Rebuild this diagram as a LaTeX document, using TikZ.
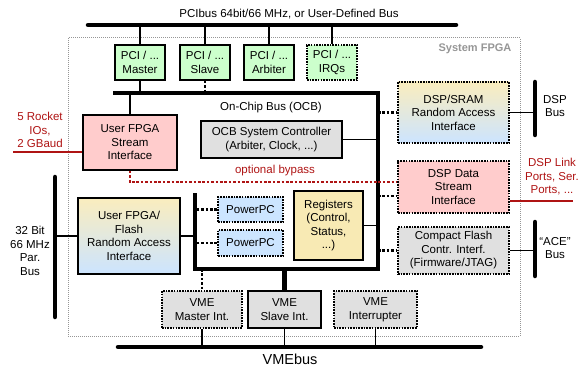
\documentclass[tikz,border=0pt]{standalone}
\usepackage{fontspec}
\setmainfont{Liberation Sans}
\usetikzlibrary{calc}
\definecolor{pcigreen}{RGB}{204,255,204}
\definecolor{strpink}{RGB}{255,204,204}
\definecolor{ocbgray}{RGB}{224,224,224}
\definecolor{ppcblue}{RGB}{204,229,255}
\definecolor{regyellow}{RGB}{248,234,180}
\definecolor{gradtop}{RGB}{250,237,190}
\definecolor{gradbot}{RGB}{204,228,255}
\definecolor{linkred}{RGB}{175,20,20}
\definecolor{fpgagray}{RGB}{150,150,150}

\begin{document}
\begin{tikzpicture}[x=1pt,y=-1pt,font=\fontsize{11.5}{13.5}\selectfont,
  box/.style={draw, line width=1.5pt, inner sep=0pt, align=center},
  dotbox/.style={box, line width=2pt, dash pattern=on 1.6pt off 1.1pt},
  bus/.style={line width=4.5pt, line cap=round},
  ocb/.style={line width=4.5pt},
  conn/.style={line width=1.5pt},
  dotconn/.style={line width=2.6pt, dash pattern=on 2.6pt off 1.8pt},
  bypass/.style={linkred, line width=2.6pt, dash pattern=on 2.6pt off 1.8pt},
  grad/.style={top color=gradtop, bottom color=gradbot}]
\useasboundingbox (0,0) rectangle (578,366);

% system FPGA frame
\draw[fpgagray, line width=1pt, dash pattern=on 1pt off 1pt] (68,38) rectangle (520,336);
\node[fpgagray, font=\fontsize{11}{13}\selectfont\bfseries] (sysfpga) at (475,49) {System FPGA};

% busses
\coordinate (pciL) at (88,25);
\coordinate (pciR) at (456,25);
\coordinate (ocbTL) at (113,93);
\coordinate (ocbTR) at (378,93);
\coordinate (ocbBR) at (378,269);
\coordinate (ocbBL) at (195,269);
\coordinate (ocbL) at (195,193);
\coordinate (vmeL) at (118,347);
\coordinate (vmeR) at (481,347);
\coordinate (dspT) at (535,82);
\coordinate (dspB) at (535,135);
\coordinate (aceT) at (535,222);
\coordinate (aceB) at (535,276);
\coordinate (parT) at (55,177);
\coordinate (parB) at (55,317);
\draw[bus] (pciL) -- (pciR);
\draw[bus] (vmeL) -- (vmeR);
\draw[bus] (dspT) -- (dspB);
\draw[bus] (aceT) -- (aceB);
\draw[bus] (parT) -- (parB);
\draw[ocb] (ocbTL) -- (ocbTR) -- (ocbBR) -- (ocbBL) -- (ocbL);
\node (pcilabel) at (289,14) {PCIbus 64bit/66 MHz, or User-Defined Bus};
\node[font=\fontsize{14.5}{16}\selectfont] (vmelabel) at (290,359) {VMEbus};
\node (ocblabel) at (271,108) {On-Chip Bus (OCB)};

% PCI interfaces
\node[box, fill=pcigreen, minimum width=50, minimum height=35] (pcim) at (140,62.5) {PCI / ...\\Master};
\node[box, fill=pcigreen, minimum width=50, minimum height=35] (pcis) at (205,62.5) {PCI / ...\\Slave};
\node[box, fill=pcigreen, minimum width=50, minimum height=35] (pcia) at (269,62.5) {PCI / ...\\Arbiter};
\node[dotbox, fill=pcigreen, minimum width=50, minimum height=35] (pcii) at (332,62.5) {PCI / ...\\IRQs};
\foreach \n in {pcim,pcis,pcia,pcii} \draw[conn] (\n.north) -- (\n.north |- pciL);
\draw[conn] (pcim.south) -- (pcim.south |- ocbTL);
\draw[dotconn] (pcis.south) -- (pcis.south |- ocbTL);

% inside the OCB
\node[box, fill=strpink, minimum width=94, minimum height=55] (stream) at (130,142.5) {User FPGA\\Stream\\Interface};
\node[box, fill=ocbgray, minimum width=141, minimum height=37] (ocbsc) at (271.5,139.5) {OCB System Controller\\(Arbiter, Clock, ...)};
\node[box, fill=regyellow, minimum width=69, minimum height=69] (regs) at (328.5,225.5) {Registers\\(Control,\\Status,\\...)};
\node[dotbox, fill=ppcblue, minimum width=65, minimum height=25] (ppca) at (250.5,209.5) {PowerPC};
\node[dotbox, fill=ppcblue, minimum width=65, minimum height=26] (ppcb) at (250.5,243) {PowerPC};
\node[box, grad, minimum width=102, minimum height=76] (flash) at (129,236) {User FPGA/\\Flash\\Random Access\\Interface};
\draw[conn] (stream.north) -- (stream.north |- ocbTL);
\draw[conn] (ocbsc.east) -- (ocbsc.east -| ocbTR);
\draw[conn] (regs.east) -- (regs.east -| ocbTR);
\draw[dotconn] (ppca.west) -- (ppca.west -| ocbL);
\draw[dotconn] (ppcb.west) -- (ppcb.west -| ocbL);
\draw[conn] (flash.east) -- (flash.east -| ocbL);
\draw[conn] (flash.west) -- (flash.west -| parT);

% DSP side
\node[dotbox, grad, minimum width=111, minimum height=61] (dspsram) at (453.5,112.5) {DSP/SRAM\\Random Access\\Interface};
\node[dotbox, fill=strpink, minimum width=111, minimum height=52] (dspstream) at (453.5,187) {DSP Data\\Stream\\Interface};
\node[dotbox, fill=ocbgray, minimum width=111, minimum height=47] (cflash) at (453.5,250.5) {Compact Flash\\Contr. Interf.\\(Firmware/JTAG)};
\coordinate (dsdot) at (0,196);
\draw[dotconn] (dspsram.west -| ocbTR) -- (dspsram.west);
\draw[dotconn] (dsdot -| ocbTR) -- (dsdot -| dspstream.west);
\draw[dotconn] (cflash.west -| ocbTR) -- (cflash.west);
\draw[conn] (dspsram.east) -- (dspsram.east -| dspT);
\draw[conn] (cflash.east) -- (cflash.east -| aceT);
\node[align=center] (dsplabel) at (555,106) {DSP\\Bus};
\node[align=center] (acelabel) at (555,248) {“ACE”\\Bus};
\node[align=center] (parlabel) at (30,251) {32 Bit\\66 MHz\\Par.\\Bus};

% red links
\coordinate (rio) at (13,152);
\coordinate (dlp) at (573,201);
\coordinate (byp) at (0,182);
\draw[linkred, conn] (rio) -- (rio -| stream.west);
\draw[linkred, conn] (dlp -| dspstream.east) -- (dlp);
\draw[bypass] (stream.south) |- (byp -| dspstream.west);
\node[linkred] (bypasslabel) at (275,171) {optional bypass};
\node[linkred, align=center] (riolabel) at (40,130) {5 Rocket\\IOs,\\2 GBaud};
\node[linkred, align=center] (dlplabel) at (552,177) {DSP Link\\Ports, Ser.\\Ports, ...};

% VME interfaces
\node[dotbox, fill=ocbgray, minimum width=80, minimum height=37] (vmem) at (202,309.5) {VME\\Master Int.};
\node[box, fill=ocbgray, minimum width=73, minimum height=37] (vmes) at (284.5,309.5) {VME\\Slave Int.};
\node[dotbox, fill=ocbgray, minimum width=83, minimum height=37] (vmei) at (375.5,309.5) {VME\\Interrupter};
\draw[dotconn] (vmem.north |- ocbBL) -- (vmem.north);
\draw[ocb] (vmes.north |- ocbBL) -- (vmes.north);
\foreach \n in {vmem,vmes,vmei} \draw[conn] (\n.south) -- (\n.south |- vmeL);
\end{tikzpicture}
\end{document}
